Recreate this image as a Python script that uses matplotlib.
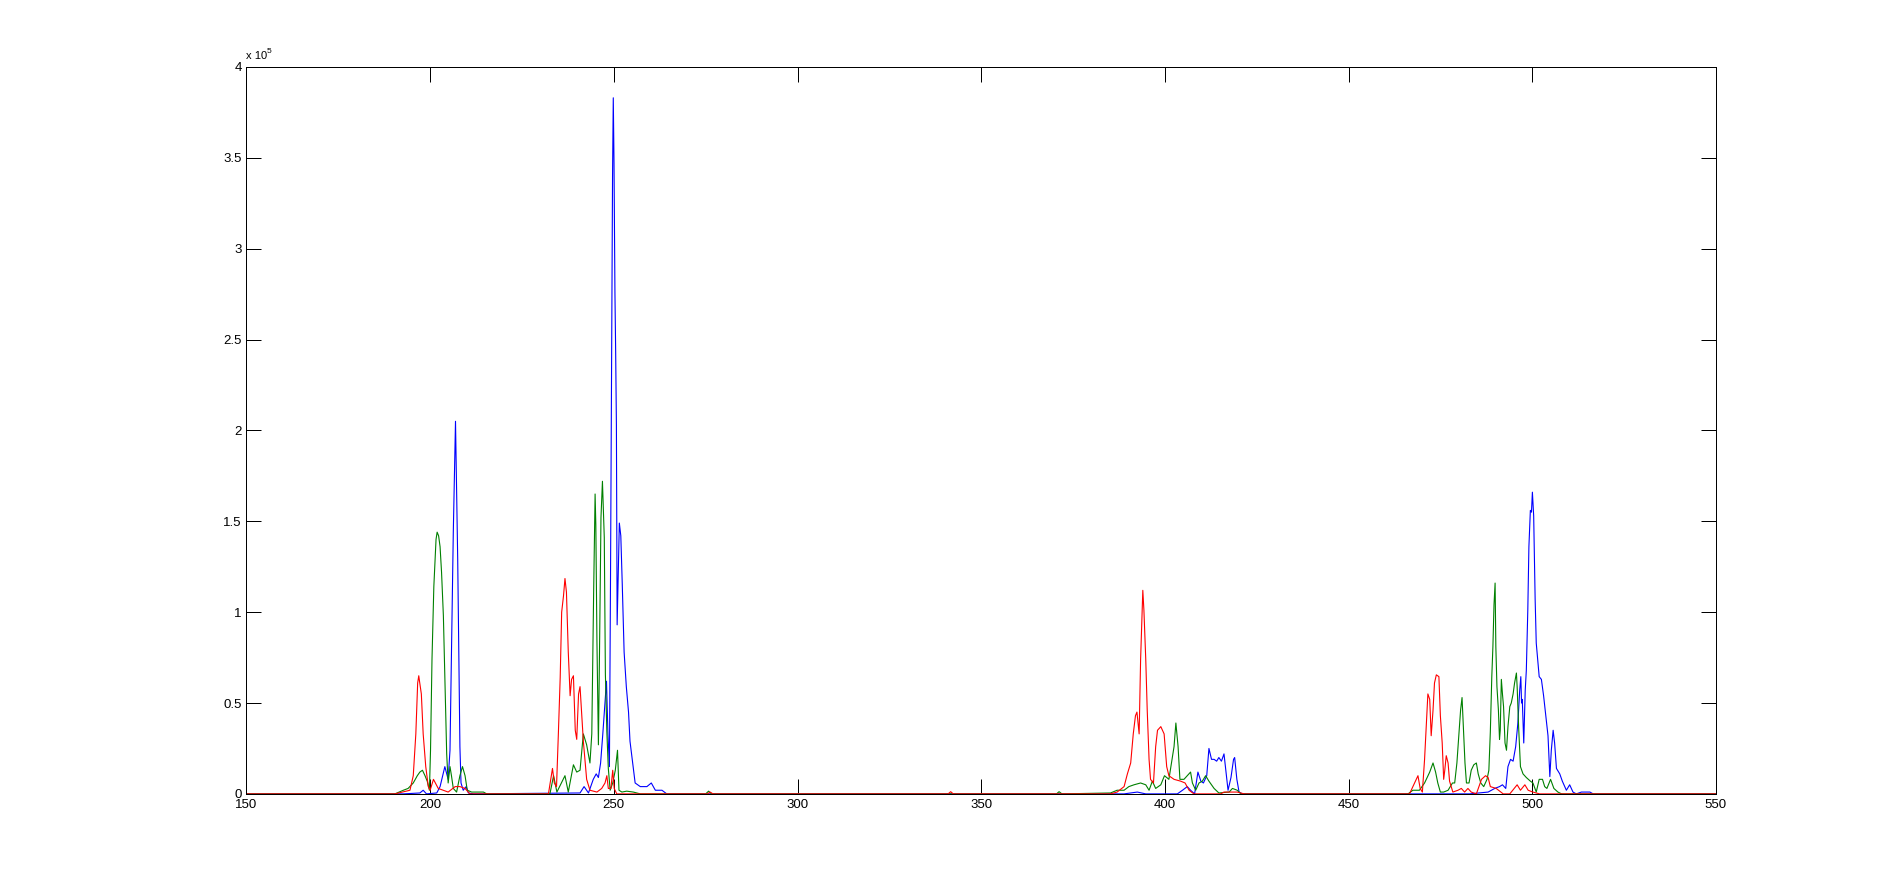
import matplotlib
matplotlib.use("Agg")
import matplotlib.pyplot as plt

# Werte in Einheiten von 1e5 (Achse zeigt "x 10^5")
blue_x = [150, 192.7, 197.2, 198.1, 199.0, 201.8, 202.7, 203.4, 204.0, 204.5,
          204.9, 205.4, 205.8, 206.3, 206.7, 206.9, 207.1, 207.5, 207.8, 208.1,
          208.4, 209.0, 209.8, 210.4, 211.8,
          240.8, 241.9, 243.1, 244.4, 245.2, 245.8, 246.4, 247.0, 248.0, 248.4,
          248.8, 249.1, 249.4, 249.65, 249.85, 250.05, 250.3, 250.5, 250.7, 250.9,
          251.5, 251.9, 252.3, 252.8, 253.4, 254.0, 254.4, 255.2, 255.8, 257.2,
          259.0, 260.2, 261.3, 263.1, 264.4,
          388.9, 392.5, 394.8, 403.4, 404.8, 406.1, 407.0, 408.1, 409.0, 409.8,
          410.5, 411.4, 412.0, 412.7, 413.4, 414.1, 414.7, 415.4, 416.1, 416.7,
          417.2, 418.0, 418.7, 419.0, 419.6, 420.2, 421.1,
          473.0, 483.0, 488.0, 489.8, 491.1, 491.9, 492.8, 493.4, 494.1, 494.8,
          495.5, 496.1, 496.6, 496.9, 497.1, 497.3, 497.7, 498.1, 498.4, 498.8,
          499.1, 499.5, 499.8, 500.05, 500.4, 500.8, 501.1, 501.9, 502.5, 503.1,
          503.7, 504.3, 504.8, 505.2, 505.7, 506.1, 506.6, 507.5, 508.2, 509.3,
          510.2, 511.1, 512.0, 513.4, 515.7, 516.6, 550]
blue_y = [0, 0, 0.005, 0.02, 0, 0.005, 0.04, 0.10, 0.15, 0.11,
          0.08, 0.24, 0.79, 1.44, 1.84, 2.05, 1.80, 1.29, 0.77, 0.26,
          0.06, 0.02, 0.04, 0.005, 0,
          0.005, 0.04, 0.005, 0.08, 0.11, 0.09, 0.17, 0.33, 0.62, 0.33,
          0.15, 1.2, 2.4, 3.4, 3.83, 3.47, 2.76, 2.43, 2.03, 0.93,
          1.49, 1.42, 1.15, 0.78, 0.59, 0.45, 0.29, 0.16, 0.06, 0.04,
          0.04, 0.06, 0.02, 0.02, 0,
          0, 0.01, 0, 0, 0.02, 0.04, 0.02, 0, 0.12, 0.07,
          0.06, 0.10, 0.25, 0.19, 0.19, 0.18, 0.20, 0.18, 0.22, 0.11,
          0.02, 0.09, 0.19, 0.20, 0.08, 0.01, 0,
          0, 0, 0.01, 0.03, 0.04, 0.05, 0.03, 0.15, 0.19, 0.18,
          0.26, 0.39, 0.57, 0.645, 0.50, 0.52, 0.28, 0.57, 0.68, 1.01,
          1.36, 1.56, 1.55, 1.66, 1.53, 1.07, 0.83, 0.645, 0.63, 0.54,
          0.43, 0.32, 0.095, 0.24, 0.35, 0.28, 0.14, 0.11, 0.07, 0.02,
          0.05, 0.01, 0, 0.01, 0.01, 0, 0]

green_x = [150, 190.4, 192.7, 194.0, 195.4, 196.5, 197.2, 197.9, 198.6, 199.2,
           199.8, 200.1, 200.5, 201.0, 201.6, 201.9, 202.3, 202.7, 203.1, 203.6,
           204.0, 204.5, 204.9, 205.4, 205.8, 206.3, 207.2, 208.1, 208.8, 209.5,
           210.1, 211.3, 214.5, 215.4,
           232.6, 233.6, 234.5, 236.7, 237.6, 239.0, 239.9, 240.8, 241.7, 242.6,
           243.5, 244.0, 244.5, 244.9, 245.1, 245.4, 245.8, 246.1, 246.5, 246.9,
           247.4, 247.7, 248.1, 248.5, 249.0, 249.7, 250.4, 251.0, 251.4, 252.2,
           253.5, 255.3, 257.2, 275.0, 275.8, 276.6,
           370.5, 371.2, 372.0,
           385.2, 387.0, 388.9, 390.2, 391.6, 393.4, 394.8, 395.7, 396.6, 397.5,
           398.9, 399.9, 401.1, 401.8, 402.5, 403.0, 403.6, 404.1, 405.2, 406.1,
           407.0, 407.5, 408.4, 409.3, 410.2, 411.1, 412.0, 413.4, 414.7, 417.5,
           418.4, 419.7, 420.7,
           466.2, 467.5, 469.3, 470.7, 472.1, 473.0, 473.7, 474.3, 475.0, 475.9,
           477.1, 478.3, 478.9, 479.5, 480.1, 480.5, 480.9, 481.3, 481.7, 482.1,
           482.8, 483.4, 484.1, 484.8, 485.3, 486.0, 486.8, 487.7, 488.2, 488.6,
           489.0, 489.3, 489.6, 489.9, 490.1, 490.4, 490.8, 491.1, 491.3, 491.6,
           491.9, 492.2, 492.6, 493.0, 493.4, 493.9, 494.3, 494.8, 495.2, 495.7,
           495.9, 496.3, 496.8, 497.5, 498.4, 499.5, 500.2, 501.1, 501.9, 502.8,
           503.4, 504.0, 505.0, 505.9, 507.0, 508.0, 550]
green_y = [0, 0, 0.02, 0.03, 0.06, 0.10, 0.12, 0.13, 0.10, 0.07,
           0.02, 0.24, 0.74, 1.14, 1.40, 1.44, 1.42, 1.36, 1.22, 0.98,
           0.65, 0.22, 0.06, 0.15, 0.10, 0.03, 0.01, 0.10, 0.15, 0.10,
           0.02, 0.01, 0.01, 0,
           0, 0.10, 0.01, 0.10, 0.01, 0.16, 0.12, 0.13, 0.33, 0.27,
           0.17, 0.33, 1.10, 1.65, 1.48, 0.84, 0.27, 0.78, 1.52, 1.72,
           1.41, 0.66, 0.34, 0.14, 0.02, 0.06, 0.13, 0.24, 0.02, 0.01,
           0.015, 0.01, 0, 0, 0.015, 0,
           0, 0.012, 0,
           0.005, 0.02, 0.02, 0.04, 0.05, 0.06, 0.05, 0.02, 0.07, 0.03,
           0.05, 0.10, 0.08, 0.17, 0.26, 0.39, 0.26, 0.08, 0.08, 0.10,
           0.12, 0.06, 0.02, 0.06, 0.07, 0.10, 0.07, 0.03, 0.005, 0.01,
           0.03, 0.02, 0,
           0, 0.02, 0.02, 0.06, 0.12, 0.17, 0.12, 0.06, 0.01, 0.01,
           0.02, 0.06, 0.06, 0.17, 0.34, 0.46, 0.53, 0.35, 0.17, 0.06,
           0.06, 0.13, 0.16, 0.17, 0.11, 0.06, 0.04, 0.08, 0.13, 0.34,
           0.645, 0.81, 1.04, 1.16, 0.81, 0.59, 0.46, 0.30, 0.35, 0.63,
           0.55, 0.48, 0.28, 0.24, 0.37, 0.48, 0.50, 0.55, 0.61, 0.665,
           0.59, 0.37, 0.15, 0.11, 0.09, 0.07, 0.06, 0.01, 0.08, 0.08,
           0.04, 0.03, 0.08, 0.03, 0.01, 0, 0]

red_x = [150, 190.4, 194.5, 195.4, 196.1, 196.6, 196.9, 197.1, 197.6, 198.1,
         198.8, 199.5, 200.0, 200.9, 202.2, 204.9, 206.8, 208.1, 209.5, 210.8,
         232.2, 233.3, 233.8, 234.4, 234.9, 235.4, 235.8, 236.3, 236.7, 237.1,
         237.6, 238.1, 238.5, 239.0, 239.5, 239.9, 240.4, 240.8, 241.3, 241.7,
         242.6, 243.5, 245.4, 246.7, 247.6, 248.1, 248.5, 249.2, 249.7, 250.1,
         250.8, 275.5, 276.2, 277.0, 341.0, 341.7, 342.4,
         385.2, 387.0, 388.9, 389.8, 390.7, 391.4, 392.0, 392.4, 393.0, 393.4,
         393.8, 394.0, 394.3, 394.8, 395.2, 395.7, 396.1, 396.9, 397.5, 398.0,
         398.9, 399.8, 400.5, 401.1, 402.5, 404.3, 405.5, 406.6, 407.9, 415.2,
         416.1, 419.7, 421.6,
         466.6, 468.0, 468.9, 469.5, 470.1, 470.7, 471.2, 471.6, 472.1, 472.5,
         473.0, 473.4, 473.9, 474.6, 475.0, 475.5, 475.9, 476.2, 476.6, 477.1,
         477.5, 478.4, 479.8, 480.7, 481.6, 482.5, 483.4, 484.8, 486.2, 487.3,
         488.0, 488.6, 490.2, 492.1, 493.9, 495.9, 496.8, 498.0, 498.9, 500.2,
         502.0, 550]
red_y = [0, 0, 0.02, 0.10, 0.33, 0.61, 0.65, 0.62, 0.55, 0.33,
         0.15, 0.04, 0.02, 0.08, 0.03, 0.01, 0.04, 0.04, 0.03, 0,
         0, 0.14, 0.06, 0.04, 0.33, 0.64, 1.00, 1.09, 1.185, 1.11,
         0.78, 0.54, 0.63, 0.65, 0.35, 0.30, 0.55, 0.59, 0.42, 0.29,
         0.08, 0.02, 0.01, 0.03, 0.06, 0.10, 0.03, 0.03, 0.13, 0.03,
         0, 0, 0.01, 0, 0, 0.012, 0,
         0, 0.01, 0.04, 0.11, 0.17, 0.33, 0.43, 0.45, 0.33, 0.74,
         1.00, 1.12, 1.01, 0.74, 0.46, 0.19, 0.08, 0.06, 0.26, 0.35,
         0.37, 0.33, 0.15, 0.10, 0.08, 0.07, 0.06, 0.02, 0, 0,
         0.01, 0.01, 0,
         0, 0.06, 0.10, 0.03, 0.01, 0.19, 0.39, 0.55, 0.52, 0.32,
         0.46, 0.61, 0.655, 0.645, 0.43, 0.28, 0.08, 0.13, 0.21, 0.17,
         0.07, 0.01, 0.02, 0.03, 0.01, 0.03, 0.01, 0, 0.08, 0.10,
         0.09, 0.04, 0.03, 0, 0, 0.05, 0.02, 0.05, 0.02, 0.01,
         0, 0]

x_ticks = [150, 200, 250, 300, 350, 400, 450, 500, 550]
y_ticks = [0, 0.5, 1, 1.5, 2, 2.5, 3, 3.5, 4]
y_labels = ["0", "0.5", "1", "1.5", "2", "2.5", "3", "3.5", "4"]

plt.rcParams['font.family'] = ['Liberation Sans', 'DejaVu Sans']

fig = plt.figure(figsize=(18.96, 8.92), dpi=100)
ax = fig.add_axes([0.13, 0.11, 0.775, 0.815])

# Reihenfolge wie MATLAB: blau, gruen, rot (rot liegt oben)
ax.plot(blue_x, blue_y, color="#0000ff", lw=0.8)
ax.plot(green_x, green_y, color="#008000", lw=0.8)
ax.plot(red_x, red_y, color="#ff0000", lw=0.8)

ax.set_xlim(150, 550)
ax.set_ylim(0, 4)
ax.set_xticks(x_ticks)
ax.set_yticks(y_ticks)
ax.set_yticklabels(y_labels)
ax.tick_params(direction='in', top=True, right=True, length=10.5, width=0.72,
               labelsize=9.5, pad=3.5)
for s in ax.spines.values():
    s.set_linewidth(0.72)

# Exponent oben links
ax.text(0.0, 1.008, "x 10", transform=ax.transAxes, fontsize=8,
        ha='left', va='bottom')
ax.text(0.0135, 1.017, "5", transform=ax.transAxes, fontsize=6,
        ha='left', va='bottom')

fig.savefig("out.png", dpi=100, facecolor="white")
